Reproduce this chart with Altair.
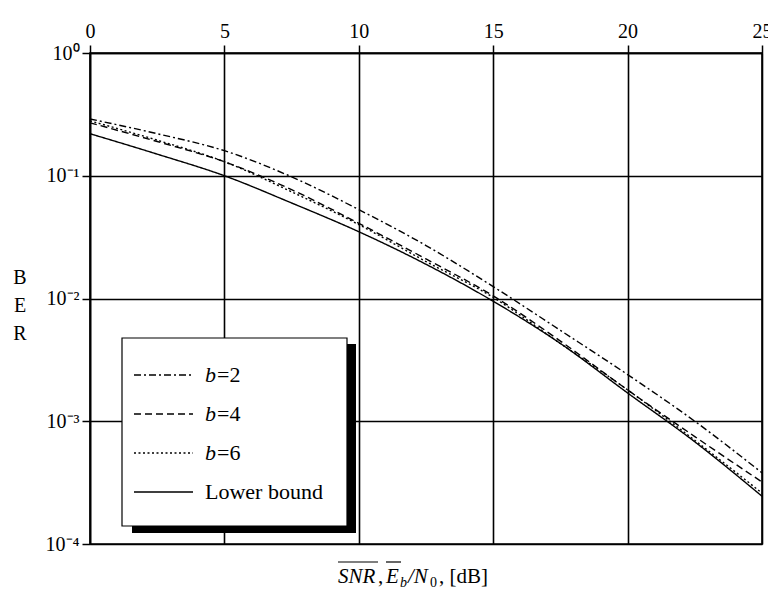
import altair as alt
import pandas as pd

# ---- data ----
snr = [0, 2.5, 5, 7.5, 10, 12.5, 15, 17.5, 20, 22.5, 25]
ber_b2 = [0.29, 0.22, 0.16, 0.098, 0.053, 0.027, 0.0125, 0.0055, 0.0024, 0.0010, 0.00038]
ber_b4 = [0.27, 0.19, 0.13, 0.077, 0.041, 0.021, 0.0105, 0.0045, 0.0018, 0.00075, 0.00032]
ber_b6 = [0.28, 0.195, 0.13, 0.074, 0.040, 0.020, 0.0102, 0.0043, 0.0018, 0.00070, 0.00026]
ber_lb = [0.22, 0.15, 0.10, 0.060, 0.035, 0.019, 0.0095, 0.0043, 0.0017, 0.00068, 0.000245]

series_names = ["b=2", "b=4", "b=6", "Lower bound"]
x_ticks = [0, 5, 10, 15, 20, 25]
y_ticks = [1e-4, 1e-3, 1e-2, 1e-1, 1]
ylabel_letters = ["B", "E", "R"]

rows = []
for name, vals in zip(series_names, [ber_b2, ber_b4, ber_b6, ber_lb]):
    for s, b in zip(snr, vals):
        rows.append({"snr": s, "ber": b, "series": name})
df = pd.DataFrame(rows)

W, H = 672, 491
FONT = "Liberation Serif, Times New Roman, serif"

dash_range = [[7, 3, 2, 3], [7, 4], [2, 2.5], [1, 0]]

lines = alt.Chart(df).mark_line(color="black", strokeWidth=1.4, interpolate="monotone").encode(
    x=alt.X("snr:Q", scale=alt.Scale(domain=[0, 25], nice=False),
            axis=alt.Axis(orient="top", values=x_ticks, title=None, labelFont=FONT,
                          labelFontSize=20, labelPadding=4, labelFlush=False)),
    y=alt.Y("ber:Q", scale=alt.Scale(type="log", domain=[1e-4, 1], nice=False),
            axis=alt.Axis(values=y_ticks, title=None, labelFont=FONT, labelFontSize=20,
                          labelPadding=3,
                          labelExpr="datum.value >= 0.5 ? '10⁰' : datum.value >= 0.05 ? '10⁻¹' : "
                                    "datum.value >= 0.005 ? '10⁻²' : datum.value >= 0.0005 ? '10⁻³' : '10⁻⁴'")),
    strokeDash=alt.StrokeDash("series:N", scale=alt.Scale(domain=series_names, range=dash_range),
                              legend=None),
    detail="series:N",
)

one = pd.DataFrame({"k": [0]})

def txt(t, x, y, size=22, italic=False, baseline="alphabetic", align="left"):
    kw = dict(font=FONT, fontSize=size, color="black", align=align, baseline=baseline, text=t)
    if italic:
        kw["fontStyle"] = "italic"
    return alt.Chart(one).mark_text(**kw).encode(x=alt.value(x), y=alt.value(y))

def rule(x1, x2, y1, w=1.2):
    return alt.Chart(one).mark_rule(color="black", strokeWidth=w).encode(
        x=alt.value(x1), x2=alt.value(x2), y=alt.value(y1))

# legend box with shadow (plot-relative pixels)
shadow = alt.Chart(one).mark_rect(color="black").encode(
    x=alt.value(42), x2=alt.value(266), y=alt.value(291), y2=alt.value(480))
box = alt.Chart(one).mark_rect(fill="white", stroke="black", strokeWidth=1.2).encode(
    x=alt.value(32), x2=alt.value(257), y=alt.value(285), y2=alt.value(473))

legend_layers = []
entry_y = [322, 361, 400, 439]
for i, (name, yy) in enumerate(zip(series_names, entry_y)):
    legend_layers.append(
        alt.Chart(one).mark_rule(color="black", strokeWidth=1.4, strokeDash=dash_range[i]).encode(
            x=alt.value(44), x2=alt.value(103), y=alt.value(yy)))
    if name.startswith("b="):
        legend_layers.append(txt("b", 115, yy + 7, italic=True))
        legend_layers.append(txt(name[1:], 127, yy + 7))
    else:
        legend_layers.append(txt(name, 115, yy + 7))

# y title stacked letters
ytitle = [txt(ch, -70, 225 + 28 * i, size=20, baseline="middle", align="center")
          for i, ch in enumerate(ylabel_letters)]

# x title: SNR, E_b/N_0, [dB] with overlines
xb = 530
xtitle = [
    txt("SNR", 248, xb, size=21, italic=True),
    txt(",", 288, xb, size=21),
    txt("E", 296, xb, size=21, italic=True),
    txt("b", 310, xb + 4, size=14, italic=True),
    txt("/N", 318, xb, size=21, italic=True),
    txt("0", 340, xb + 4, size=14),
    txt(", [dB]", 349, xb, size=21),
    rule(248, 288, 509),
    rule(296, 311, 509),
]

chart = alt.layer(lines, shadow, box, *legend_layers, *ytitle, *xtitle).properties(
    width=W, height=H,
    autosize=alt.AutoSizeParams(type="none"),
    padding={"left": 90, "top": 53, "right": 6, "bottom": 47},
    background="white",
).configure_view(stroke="black", strokeWidth=1.6).configure_axis(
    grid=True, gridColor="black", gridOpacity=1, gridWidth=1.6,
    domainColor="black", domainWidth=1.6, tickColor="black", tickSize=8, tickWidth=1.5,
    labelColor="black",
)

chart.save("out.html", embed_options={"renderer": "svg", "actions": False})
